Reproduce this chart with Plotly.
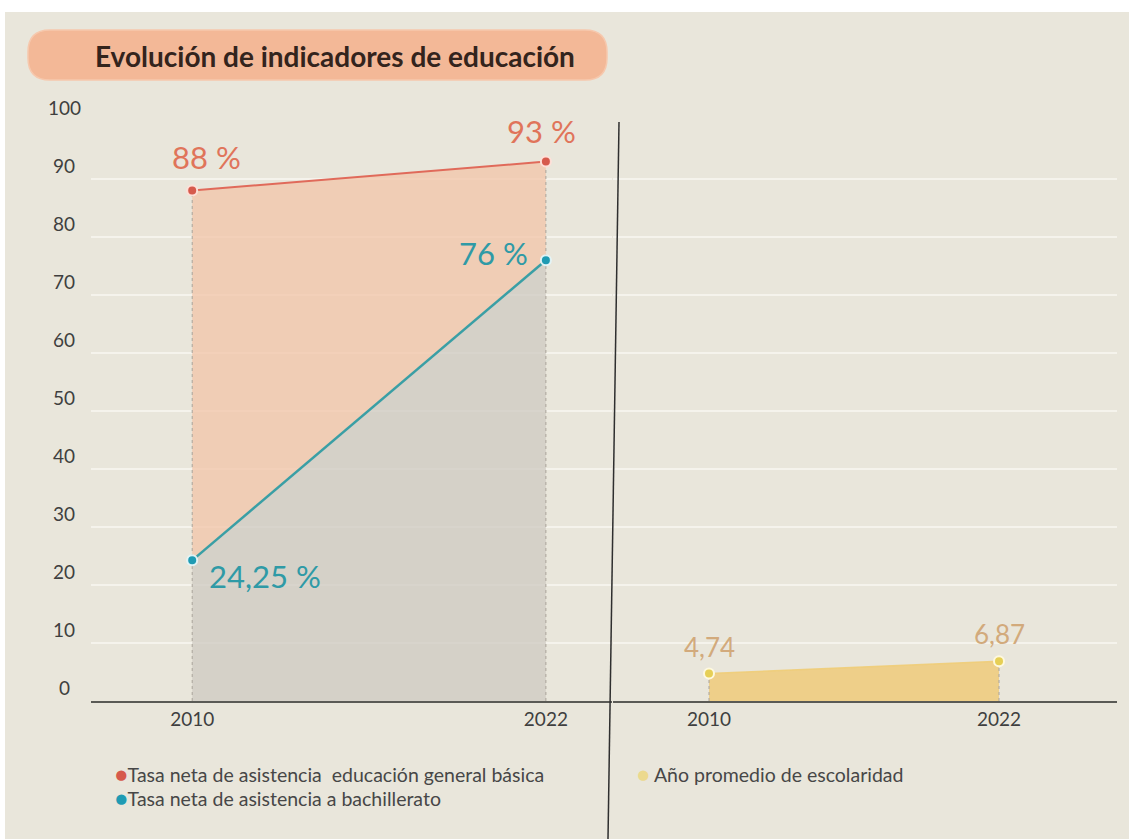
import plotly.graph_objects as go

# --- data ---------------------------------------------------------------
years = [2010, 2022]
basica = [88, 93]              # Tasa neta de asistencia educación general básica (%)
bachillerato = [24.25, 76]     # Tasa neta de asistencia a bachillerato (%)
escolaridad = [4.74, 6.87]     # Año promedio de escolaridad
basica_labels = ["88 %", "93 %"]
bach_labels = ["24,25 %", "76 %"]
esc_labels = ["4,74", "6,87"]
y_ticks = [0, 10, 20, 30, 40, 50, 60, 70, 80, 90, 100]
y_tick_labels = [str(v) for v in y_ticks]
x_tick_labels = ["2010", "2022"]

title_text = "Evolución de indicadores de educación"
legend_basica = "Tasa neta de asistencia  educación general básica"
legend_bach = "Tasa neta de asistencia a bachillerato"
legend_esc = "Año promedio de escolaridad"

# --- style --------------------------------------------------------------
W, H = 1129, 839
BG = "#e9e6db"
GRID = "#f5f3ec"
RED = "#d65a4c"
RED_LINE = "#e06a5a"
RED_TXT = "#e0745a"
BLUE = "#1f9bb3"
BLUE_LINE = "#3a9fa5"
BLUE_TXT = "#2f9aa6"
YEL = "#e6cf55"
YEL_TXT = "#d2aa7c"
TXT = "#3f3f3f"
FONT = "Lato"


def px(x):
    return x / W


def py(y):
    return 1 - y / H


fig = go.Figure()

# filled areas (left panel)
fig.add_trace(go.Scatter(x=years, y=bachillerato, mode="none", fill="tozeroy",
                         fillcolor="rgba(208,202,195,0.78)", xaxis="x", yaxis="y",
                         hoverinfo="skip", showlegend=False))
fig.add_trace(go.Scatter(x=years, y=basica, mode="none", fill="tonexty",
                         fillcolor="rgba(242,196,168,0.75)", xaxis="x", yaxis="y",
                         hoverinfo="skip", showlegend=False))
# filled area (right panel)
fig.add_trace(go.Scatter(x=years, y=escolaridad, mode="none", fill="tozeroy",
                         fillcolor="rgba(239,201,118,0.82)", xaxis="x2", yaxis="y2",
                         hoverinfo="skip", showlegend=False))

# dotted drop lines from the highest point of each year to the baseline
for i, yr in enumerate(years):
    fig.add_trace(go.Scatter(x=[yr, yr], y=[0, max(basica[i], bachillerato[i])],
                             mode="lines", line=dict(color="#aaa49b", width=1, dash="dot"),
                             xaxis="x", yaxis="y", hoverinfo="skip", showlegend=False))
    fig.add_trace(go.Scatter(x=[yr, yr], y=[0, escolaridad[i]],
                             mode="lines", line=dict(color="#aaa49b", width=1, dash="dot"),
                             xaxis="x2", yaxis="y2", hoverinfo="skip", showlegend=False))

# lines with markers
fig.add_trace(go.Scatter(x=years, y=basica, mode="lines+markers",
                         line=dict(color=RED_LINE, width=2),
                         marker=dict(color=RED, size=10, line=dict(color="rgba(255,225,218,0.95)", width=2)),
                         xaxis="x", yaxis="y", showlegend=False, name=legend_basica))
fig.add_trace(go.Scatter(x=years, y=bachillerato, mode="lines+markers",
                         line=dict(color=BLUE_LINE, width=2.5),
                         marker=dict(color=BLUE, size=10, line=dict(color="rgba(230,245,248,0.95)", width=2)),
                         xaxis="x", yaxis="y", showlegend=False, name=legend_bach))
fig.add_trace(go.Scatter(x=years, y=escolaridad, mode="lines+markers",
                         line=dict(color="rgba(240,205,120,0.9)", width=1.5),
                         marker=dict(color=YEL, size=10, line=dict(color="rgba(255,250,225,0.95)", width=2)),
                         xaxis="x2", yaxis="y2", showlegend=False, name=legend_esc))

annotations = []

# value labels
red_off = [dict(xshift=14, yshift=34, xanchor="center"), dict(xshift=-4, yshift=31, xanchor="center")]
blue_off = [dict(xshift=15, yshift=-16, xanchor="left"), dict(xshift=-16, yshift=7, xanchor="right")]
for i, yr in enumerate(years):
    annotations.append(dict(x=yr, y=basica[i], xref="x", yref="y", text=basica_labels[i],
                            showarrow=False, yanchor="middle",
                            font=dict(family=FONT, size=31, color=RED_TXT), **red_off[i]))
    annotations.append(dict(x=yr, y=bachillerato[i], xref="x", yref="y", text=bach_labels[i],
                            showarrow=False, yanchor="middle",
                            font=dict(family=FONT, size=31, color=BLUE_TXT), **blue_off[i]))
    annotations.append(dict(x=yr, y=escolaridad[i], xref="x2", yref="y2", text=esc_labels[i],
                            showarrow=False, yanchor="middle", xanchor="center", yshift=27,
                            font=dict(family=FONT, size=26, color=YEL_TXT)))

# y tick labels, centred in the left gutter and sitting above their grid lines
for v, lab in zip(y_ticks, y_tick_labels):
    annotations.append(dict(x=px(64), y=v, xref="paper", yref="y", text=lab, showarrow=False,
                            xanchor="center", yanchor="middle", yshift=14,
                            font=dict(family=FONT, size=19, color=TXT)))

# title
annotations.append(dict(x=px(335), y=py(56), xref="paper", yref="paper", text="<b>" + title_text + "</b>",
                        showarrow=False, xanchor="center", yanchor="middle",
                        font=dict(family=FONT, size=28, color="#33241d")))

# legend entries
def legend_item(x, y, color, text):
    return dict(x=px(x), y=py(y), xref="paper", yref="paper", showarrow=False,
                xanchor="left", yanchor="middle",
                text=f"<span style='color:{color};font-size:21px'>●</span>{text}",
                font=dict(family=FONT, size=19.5, color="#474747"))


annotations.append(legend_item(113, 773, RED, legend_basica))
annotations.append(legend_item(113, 797, BLUE, legend_bach))
annotations.append(legend_item(635, 773, "#ecd98e", " " + legend_esc))

# title pill with rounded ends
x0, x1, y0, y1, r = 28, 607, 30, 80, 22
pill = (f"M {px(x0 + r)} {py(y0)} L {px(x1 - r)} {py(y0)} "
        f"Q {px(x1)} {py(y0)} {px(x1)} {py(y0 + r)} L {px(x1)} {py(y1 - r)} "
        f"Q {px(x1)} {py(y1)} {px(x1 - r)} {py(y1)} L {px(x0 + r)} {py(y1)} "
        f"Q {px(x0)} {py(y1)} {px(x0)} {py(y1 - r)} L {px(x0)} {py(y0 + r)} "
        f"Q {px(x0)} {py(y0)} {px(x0 + r)} {py(y0)} Z")

shapes = [
    # white frame strip around the card
    dict(type="rect", xref="paper", yref="paper", x0=0, x1=1, y0=py(12), y1=1,
         fillcolor="white", line=dict(width=0), layer="below"),
    dict(type="rect", xref="paper", yref="paper", x0=0, x1=px(5), y0=0, y1=1,
         fillcolor="white", line=dict(width=0), layer="below"),
    dict(type="path", xref="paper", yref="paper", path=pill,
         fillcolor="#f3b897", line=dict(color="#f6c8ad", width=1.5), layer="below"),
    # divider between the two panels
    dict(type="line", xref="paper", yref="paper", x0=px(619), y0=py(122), x1=px(608), y1=py(839),
         line=dict(color="#2f2f2f", width=1.5)),
]

axis_common = dict(showgrid=False, zeroline=False, showline=True, linecolor="#5a5a55", linewidth=2,
                   ticks="", tickvals=years, ticktext=x_tick_labels,
                   tickfont=dict(family=FONT, size=19, color=TXT), fixedrange=True)
yaxis_common = dict(range=[0, 100], tickvals=y_ticks, showticklabels=False, showgrid=True,
                    gridcolor=GRID, gridwidth=2, zeroline=False, showline=False,
                    domain=[py(701), py(121)], fixedrange=True)

fig.update_layout(
    width=W, height=H,
    margin=dict(l=0, r=0, t=0, b=0),
    paper_bgcolor=BG, plot_bgcolor=BG,
    showlegend=False,
    xaxis=dict(domain=[px(91), px(612)], range=[2006.567, 2024.243], anchor="y", **axis_common),
    xaxis2=dict(domain=[px(613), px(1117)], range=[2006.028, 2026.882], anchor="y2", **axis_common),
    yaxis=dict(anchor="x", **yaxis_common),
    yaxis2=dict(anchor="x2", matches="y", **yaxis_common),
    annotations=annotations,
    shapes=shapes,
    font=dict(family=FONT),
)

fig.write_html("out.html")
